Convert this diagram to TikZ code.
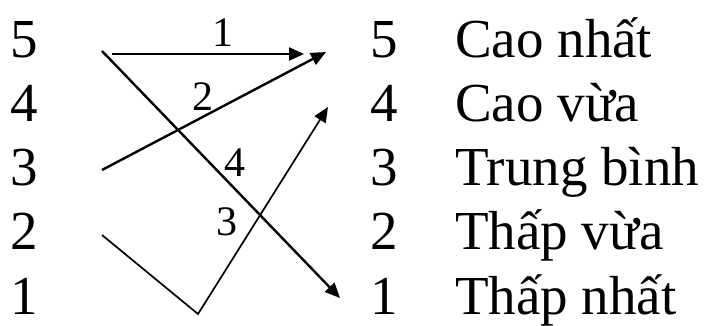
\documentclass[tikz,border=0pt]{standalone}
\usepackage{fontspec}
\setmainfont{Liberation Serif}
\usetikzlibrary{arrows.meta,positioning}

\begin{document}
\begin{tikzpicture}[
  x=1pt, y=-1pt,
  every node/.style={inner sep=0pt, font=\fontsize{55}{60}\selectfont},
  lbl/.style={font=\fontsize{42}{46}\selectfont},
  link/.style={draw, line width=2.4pt},
  thin link/.style={draw, line width=1.7pt},
  >={Triangle[length=15pt,width=13pt]}
]
\useasboundingbox (0,0) rectangle (709,325);
% left column
\foreach \n in {5,4,3,2,1}
  \node[anchor=base] (l\n) at (24,{57+(5-\n)*64.25}) {\n};
% right column
\foreach \n/\t in {5/Cao nhất,4/Cao vừa,3/Trung bình,2/Thấp vừa,1/Thấp nhất} {
  \node[anchor=base] (r\n) at (384,{57+(5-\n)*64.25}) {\n};
  \node[anchor=base west] (t\n) at (455,{57+(5-\n)*64.25}) {\t};
}
% ends of the arrows
\coordinate (a5) at (112,54);
\coordinate (b5) at (304,54);
\coordinate (s5) at (102,51);
\coordinate (e1) at (340,298);
\coordinate (s3) at (102,170);
\coordinate (e5) at (326,52);
\coordinate (s2) at (102,235);
\coordinate (v1) at (198,314);
\coordinate (e4) at (328,107);
\draw[link,->] (a5) -- (b5);
\draw[link,->] (s5) -- (e1);
\draw[link,->] (s3) -- (e5);
\draw[thin link,->] (s2) -- (v1) -- (e4);
% labels
\node[lbl] (n1) at (223,33) {1};
\node[lbl] (n2) at (203,97) {2};
\node[lbl] (n4) at (235,163) {4};
\node[lbl] (n3) at (227,222) {3};
\end{tikzpicture}
\end{document}
